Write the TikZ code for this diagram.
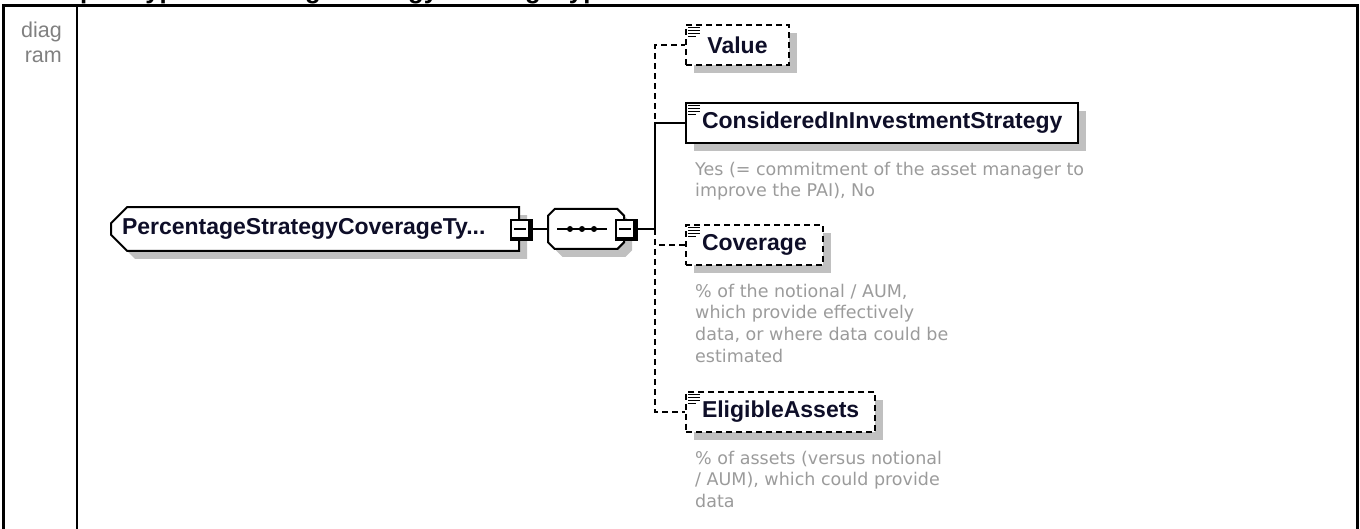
\documentclass[tikz,border=0pt]{standalone}
\usepackage{fontspec}
\setmainfont{Liberation Sans}
\newfontfamily\descfont{DejaVu Sans}
\usepackage{tikz}
\usetikzlibrary{
  positioning,
  shapes.misc,
  shadows,
  calc
}

\definecolor{namecol}{RGB}{14,14,40}
\definecolor{desccol}{RGB}{155,155,155}
\definecolor{shadowcol}{RGB}{192,192,192}
\definecolor{labelcol}{RGB}{128,128,128}

% small "documentation" mark in the top left corner of a box
\newcommand{\docicon}[1]{%
  \foreach \iy/\il in {3.5/12, 6.5/12, 9.5/12, 12.5/8} {
    \draw[line width=1.2pt] ($(#1.north west)+(3,\iy)$) -- ++(\il,0);
  }}

% collapse box decoration
\newcommand{\minusmark}[1]{%
  \draw[line width=2.5pt] ([xshift=1.5pt]#1.north east) -- ([xshift=1.5pt,yshift=-1.5pt]#1.south east) -- ([yshift=-1.5pt]#1.south west);
  \draw[line width=1.5pt] ($(#1.west)+(4,0)$) -- ($(#1.east)+(-4,0)$);}

\begin{document}
\begin{tikzpicture}[
  x=1pt, y=-1pt,
  boxshadow/.style={
    drop shadow={shadow xshift=8pt, shadow yshift=-8pt, fill=shadowcol, opacity=1}
  },
  namefont/.style={
    font=\bfseries\fontsize{23}{27}\selectfont,
    text=namecol
  },
  elem/.style={
    namefont,
    draw,
    line width=2pt,
    fill=white,
    boxshadow,
    minimum height=40pt,
    minimum width=103pt,
    inner xsep=16pt,
    anchor=west
  },
  optelem/.style={
    elem,
    dash pattern=on 6pt off 4pt
  },
  rootbox/.style={
    namefont,
    draw,
    line width=2pt,
    fill=white,
    boxshadow,
    chamfered rectangle,
    chamfered rectangle corners={north west,south west},
    chamfered rectangle xsep=8pt,
    chamfered rectangle ysep=8pt,
    minimum height=40pt,
    inner xsep=3pt,
    text width=386pt,
    align=left,
    anchor=west
  },
  seqbox/.style={
    draw,
    line width=2pt,
    fill=white,
    boxshadow,
    chamfered rectangle,
    chamfered rectangle xsep=14pt,
    chamfered rectangle ysep=10pt,
    minimum width=76pt,
    minimum height=40pt,
    anchor=west
  },
  minusbox/.style={
    draw,
    line width=1.5pt,
    fill=white,
    minimum size=18pt,
    inner sep=0pt
  },
  desc/.style={
    font=\descfont\fontsize{17.5}{21.7}\selectfont,
    text=desccol,
    align=left,
    anchor=north west,
    inner sep=0pt
  },
  conn/.style={line width=2pt},
  optconn/.style={conn, dash pattern=on 6pt off 4pt}
]

\useasboundingbox (0,0) rectangle (1360,529);

% Heading (cut off by the page edge)
\begin{scope}
  \clip (0,0) rectangle (1360,529);
  \node[anchor=base west, inner sep=0pt, font=\bfseries\fontsize{25.7}{30}\selectfont] (title) at (27,-1.5) {complexType PercentageStrategyCoverageType};
\end{scope}

% Table frame
\draw[line width=3pt] (3.5,529) -- (3.5,5.2) -- (1357.7,5.2) -- (1357.7,529);
\draw[line width=2.5pt] (77,5.2) -- (77,529);
\node[anchor=north east, align=right, inner sep=0pt, text=labelcol, font=\fontsize{21.5}{25}\selectfont] (sidelabel) at (62,21.5) {diag\\ram};

% Root and sequence
\node[rootbox] (root) at (110,229) {PercentageStrategyCoverageTy...};
\node[minusbox] (rootminus) at (root.east) {};
\minusmark{rootminus}

\node[seqbox] (seq) at (547,229) {};
\draw[conn] ($(seq.west)+(10,0)$) -- ($(seq.west)+(60,0)$);
\foreach \dx in {23,35,47} {
  \fill ($(seq.west)+(\dx,0)$) circle (3);
}
\node[minusbox] (seqminus) at (seq.east) {};
\minusmark{seqminus}

% Children
\node[optelem] (value) at (685,45) {Value};
\node[elem] (considered) at (685,123) {ConsideredInInvestmentStrategy};
\node[optelem] (coverage) at (685,245) {Coverage};
\node[optelem] (eligible) at (685,412) {EligibleAssets};
\foreach \n in {value, considered, coverage, eligible} {
  \docicon{\n}
}

% Annotations
\node[desc] (considereddesc) at (695,161.7) {Yes (= commitment of the asset manager to\\improve the PAI), No};
\node[desc] (coveragedesc) at (695,283.7) {\% of the notional / AUM,\\which provide effectively\\data, or where data could be\\estimated};
\node[desc] (eligibledesc) at (695,450.7) {\% of assets (versus notional\\/ AUM), which could provide\\data};

% Connectors
\coordinate (fork) at (655,229);
\draw[conn] (rootminus.east) -- (seq.west);
\draw[conn] (seqminus.east) -- (fork);
\draw[conn] (fork) |- (considered.west);
\draw[optconn] (fork) |- (value.west);
\draw[optconn] (fork) |- (coverage.west);
\draw[optconn] (fork) |- (eligible.west);

\end{tikzpicture}
\end{document}
